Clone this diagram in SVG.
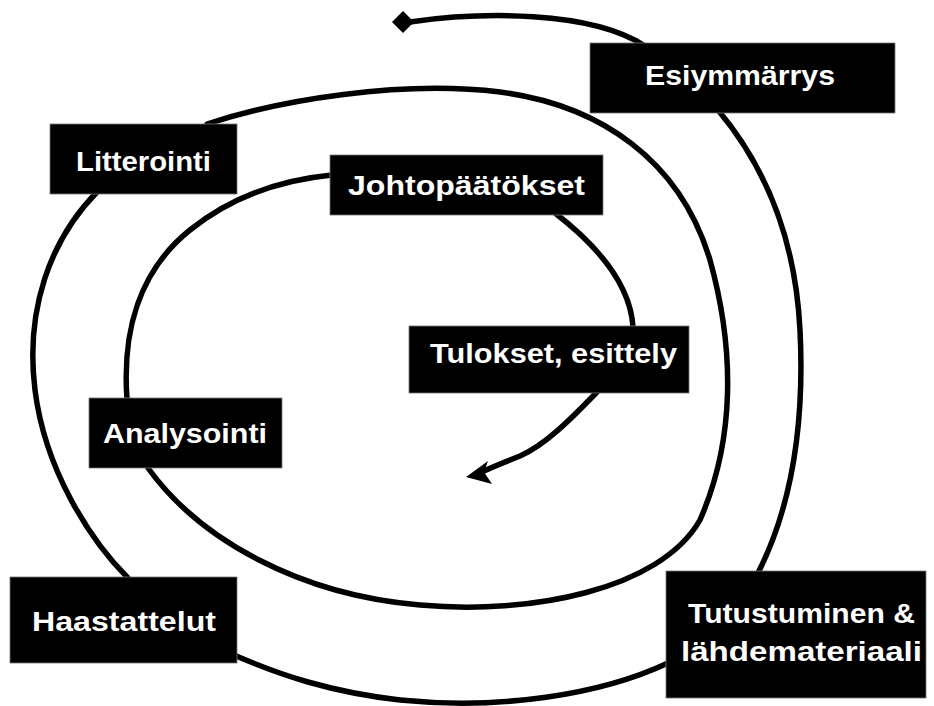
<svg xmlns="http://www.w3.org/2000/svg" width="934" height="706" viewBox="0 0 934 706">
<style>
.c{fill:none;stroke:#000;stroke-width:5.5;stroke-linecap:round}
.b{fill:#000;stroke:#777;stroke-width:0.8}
.t{fill:#fff;font-family:"Liberation Sans",Arial,sans-serif;font-weight:bold;font-size:27px;text-anchor:middle}
</style>
<rect width="934" height="706" fill="#fff"/>
<g id="connectors">
<polygon points="392,22 403,11 414,22 403,33" fill="#000"/>
<path class="c" d="M410,22 C480,12 590,10 645,46"/>
<path class="c" d="M718,110 C760,160 795,230 800,330 C805,430 790,510 758,573"/>
<path class="c" d="M668,663 C600,695 500,710 400,700 C330,692 280,675 234,655"/>
<path class="c" d="M128,578 C90,540 45,470 35,390 C25,310 50,240 97,192"/>
<path class="c" d="M207,124 C280,100 400,80 500,92 C600,105 680,160 710,260 C735,350 735,440 700,520 C660,590 530,615 420,605 C300,595 200,540 148,468"/>
<path class="c" d="M127,399 C122,330 140,270 190,230 C230,198 280,180 332,175"/>
<path class="c" d="M555,213 C590,240 630,280 633,327"/>
<path class="c" d="M597,392 C570,420 545,445 520,456 C505,462 495,466 484,471"/>
<polygon points="466,477 488,461 484,472 492,484" fill="#000"/>
</g>
<g id="esiymmarrys"><rect class="b" x="590" y="43" width="305" height="70"/><text class="t" x="740" y="85" textLength="190" lengthAdjust="spacingAndGlyphs">Esiymmärrys</text></g>
<g id="litterointi"><rect class="b" x="50" y="124" width="187" height="70"/><text class="t" x="143.5" y="171" textLength="135" lengthAdjust="spacingAndGlyphs">Litterointi</text></g>
<g id="johtopaatokset"><rect class="b" x="330" y="155" width="273" height="60"/><text class="t" x="466.5" y="195" textLength="237" lengthAdjust="spacingAndGlyphs">Johtopäätökset</text></g>
<g id="tulokset"><rect class="b" x="409" y="326" width="280" height="67"/><text class="t" x="553.5" y="363" textLength="247" lengthAdjust="spacingAndGlyphs">Tulokset, esittely</text></g>
<g id="analysointi"><rect class="b" x="89" y="398" width="193" height="70"/><text class="t" x="185" y="443" textLength="164" lengthAdjust="spacingAndGlyphs">Analysointi</text></g>
<g id="haastattelut"><rect class="b" x="10" y="577" width="227" height="86"/><text class="t" x="124" y="631" textLength="184" lengthAdjust="spacingAndGlyphs">Haastattelut</text></g>
<g id="tutustuminen"><rect class="b" x="666" y="571" width="260" height="127"/><text class="t" x="801.5" y="623" textLength="227" lengthAdjust="spacingAndGlyphs">Tutustuminen &amp;</text><text class="t" x="801.5" y="661" textLength="241" lengthAdjust="spacingAndGlyphs">lähdemateriaali</text></g>
</svg>
